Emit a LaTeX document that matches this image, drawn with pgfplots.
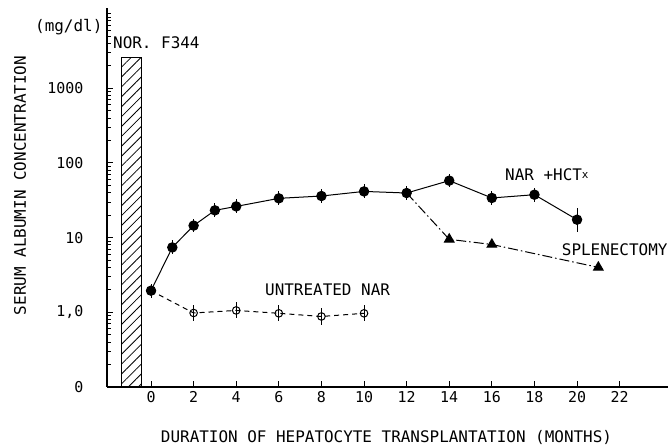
\documentclass[border=0pt]{standalone}
\usepackage{pgfplots}
\pgfplotsset{compat=1.18}
\usepackage{pgfplotstable}
\usetikzlibrary{patterns.meta}
\usepackage{fontspec}
\setmainfont{DejaVu Sans Mono}
\newcommand{\fs}{\fontsize{16}{18}\selectfont}
\newcommand{\ft}{\fontsize{15}{17}\selectfont}

\pgfplotstableread{
x y ep em
0 1.95 0.24 0.19
1 7.4 0.24 0.19
2 14.5 0.24 0.19
3 23.2 0.24 0.19
4 26.2 0.24 0.19
6 33.6 0.24 0.19
8 36.1 0.24 0.19
10 41.6 0.24 0.19
12 39.6 0.24 0.19
14 58 0.24 0.19
16 34 0.24 0.19
18 37.6 0.24 0.19
20 17.4 0.45 0.31
}\narhctx

\pgfplotstableread{
x y ep em
0 1.95 0 0
2 0.98 0.28 0.22
4 1.06 0.28 0.22
6 0.97 0.28 0.22
8 0.88 0.28 0.22
10 0.97 0.28 0.22
}\untreated

\pgfplotstableread{
x y
12 39.6
14 9.5
16 8.1
21 4.0
}\splen

\begin{document}
\begin{tikzpicture}[x=1bp,y=1bp]
\path[use as bounding box] (0,0) rectangle (668,446);
\begin{axis}[
  at={(107bp,59bp)}, anchor=south west,
  scale only axis, width=561bp, height=379bp,
  xmin=-2.066, xmax=24.27,
  ymode=log, ymin=0.1, ymax=11900,
  log origin y=infty,
  axis x line=bottom, axis y line=left,
  axis line style={-, line width=1.1bp},
  clip=false,
  xtick={0,2,4,6,8,10,12,14,16,18,20,22},
  ytick={0.1,1,10,100,1000},
  yticklabels={0,{1,0},10,100,1000},
  minor ytick={0.2,0.3,0.4,0.5,0.6,0.7,0.8,0.9,2,3,4,5,6,7,8,9,20,30,40,50,60,70,80,90,200,300,400,500,600,700,800,900,2000,3000,4000,5000,6000,7000,8000,9000,10000},
  tick align=inside,
  major tick length=6bp, minor tick length=4bp,
  every tick/.style={black, line width=1bp},
  every minor tick/.style={black, line width=0.9bp},
  /pgf/number format/assume math mode=true,
  ticklabel style={font=\ft},
  yticklabel style={xshift=-20bp},
  xticklabel style={yshift=-1bp},
  error bars/error bar style={line width=1bp, solid},
]
\addplot[ybar, bar width=0.94, draw=black, line width=1bp,
  pattern={Lines[angle=45,distance=7bp,line width=0.8bp]}]
  coordinates {(-0.906,2600)};

\addplot[black, line width=1bp, dash pattern=on 5bp off 4bp,
  mark=o, mark size=3.8bp, mark options={solid, fill=white, line width=1bp},
  mark indices={2,3,4,5,6},
  error bars/.cd, y dir=both, y explicit relative, error mark=none]
  table[x=x, y=y, y error plus=ep, y error minus=em] {\untreated};

\addplot[black, line width=1bp, dash pattern=on 10bp off 3bp on 1.5bp off 3bp,
  mark=triangle*, mark size=5.5bp, mark options={solid, fill=black},
  mark indices={2,3,4}]
  table[x=x, y=y] {\splen};

\addplot[black, line width=1bp,
  mark=*, mark size=4.7bp, mark options={solid, fill=black},
  error bars/.cd, y dir=both, y explicit relative, error mark=none]
  table[x=x, y=y, y error plus=ep, y error minus=em] {\narhctx};
\end{axis}
\node[font=\fs] at (386.5, 8) {DURATION OF HEPATOCYTE TRANSPLANTATION (MONTHS)};
\node[font=\fs, rotate=90] at (20, 260.5) {SERUM ALBUMIN CONCENTRATION};
\node[font=\fs, anchor=west, inner sep=0] at (35, 419.3) {(mg/dl)};
\node[font=\fs, anchor=west, inner sep=0] at (113, 403) {NOR. F344};
\node[font=\fs, anchor=west, inner sep=0] at (505, 271) {NAR +HCT\raisebox{2bp}{\fontsize{11}{11}\selectfont x}};
\node[font=\fs, anchor=west, inner sep=0] at (561.7, 196) {SPLENECTOMY};
\node[font=\fs, anchor=west, inner sep=0] at (265, 156) {UNTREATED NAR};
\end{tikzpicture}
\end{document}
